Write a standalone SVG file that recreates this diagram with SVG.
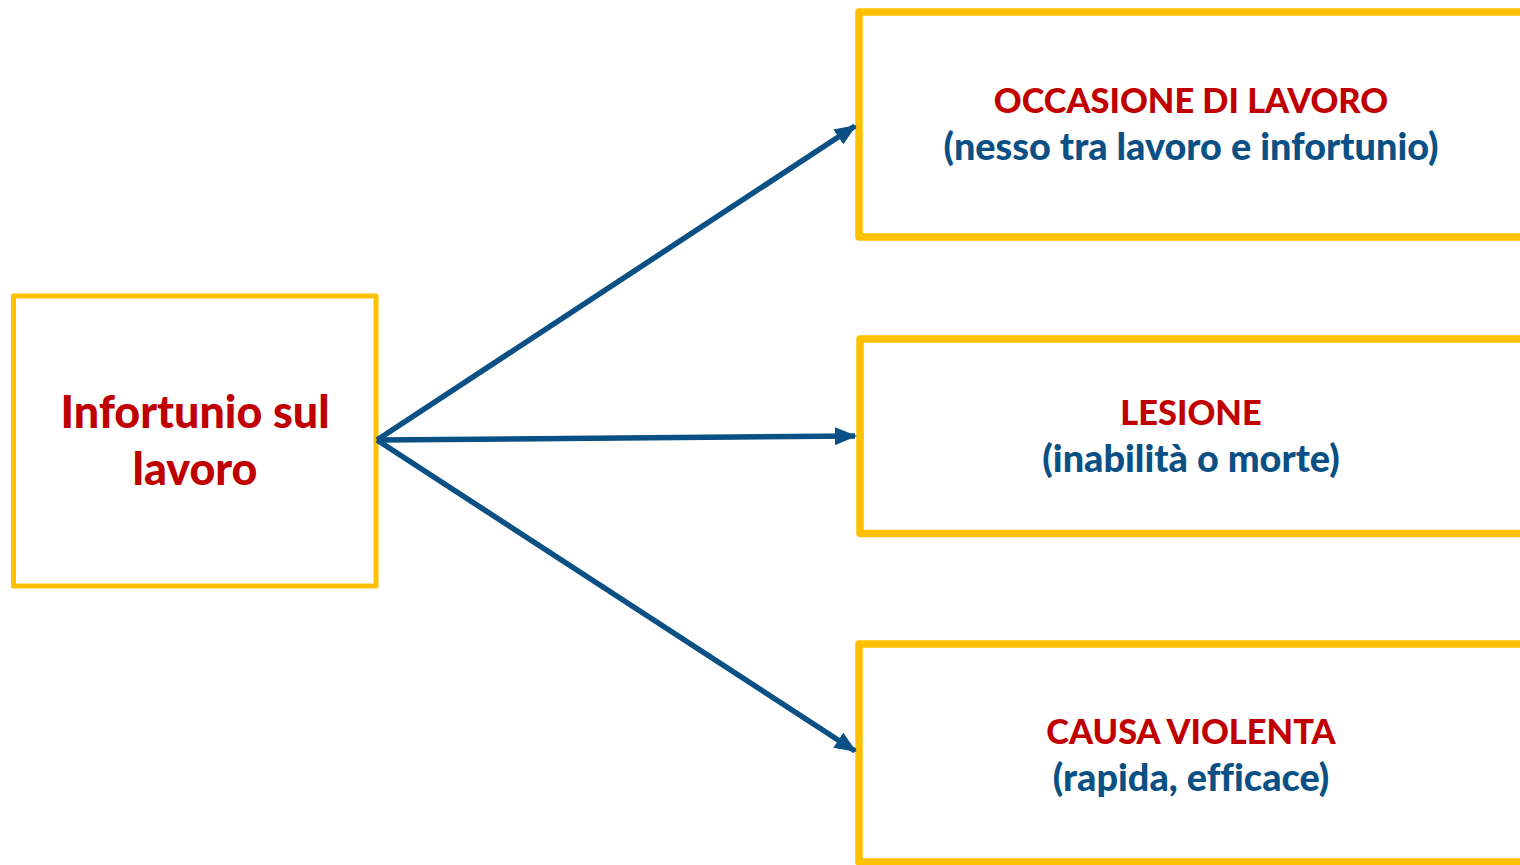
<svg xmlns="http://www.w3.org/2000/svg" width="1520" height="865" viewBox="0 0 1520 865">
<style>
.box{fill:#FFFFFF;stroke:#FFC000;stroke-linejoin:round}
.big{stroke-width:7.5}
.t{font-family:Lato,"Open Sans","Liberation Sans",sans-serif;font-weight:900;text-anchor:middle;font-variant-ligatures:none}
.red{fill:#C00000;font-size:34.4px}
.blue{fill:#0B5084;font-size:37.8px}
.conn{stroke:#0B5084;stroke-width:5.5;fill:none;marker-end:url(#ah)}
</style>
<defs>
<marker id="ah" markerUnits="userSpaceOnUse" markerWidth="22" markerHeight="18" viewBox="0 0 22 18" refX="20" refY="9" orient="auto">
<path d="M0,0 L22,9 L0,18 Z" fill="#0B5084"/>
</marker>
</defs>
<rect width="1520" height="865" fill="#FFFFFF"/>
<g id="n-infortunio">
<rect class="box" x="13.5" y="296" width="362.5" height="290" stroke-width="5"/>
<text class="t red" x="195" y="428" style="font-size:44.8px">Infortunio sul</text>
<text class="t red" x="195" y="485" style="font-size:44.8px">lavoro</text>
</g>
<g id="n-occasione">
<rect class="box big" x="859" y="12" width="700" height="225"/>
<text class="t red" x="1191" y="113">OCCASIONE DI LAVORO</text>
<text class="t blue" x="1191" y="160">(nesso tra lavoro e infortunio)</text>
</g>
<g id="n-lesione">
<rect class="box big" x="860" y="339" width="700" height="194.5"/>
<text class="t red" x="1191" y="425">LESIONE</text>
<text class="t blue" x="1191" y="472">(inabilità o morte)</text>
</g>
<g id="n-causa">
<rect class="box big" x="859" y="644" width="700" height="218"/>
<text class="t red" x="1191" y="744">CAUSA VIOLENTA</text>
<text class="t blue" x="1191" y="791">(rapida, efficace)</text>
</g>
<g id="connectors">
<line class="conn" x1="377" y1="440" x2="855" y2="126"/>
<line class="conn" x1="377" y1="440" x2="855" y2="436"/>
<line class="conn" x1="377" y1="440" x2="855" y2="751"/>
</g>
</svg>
